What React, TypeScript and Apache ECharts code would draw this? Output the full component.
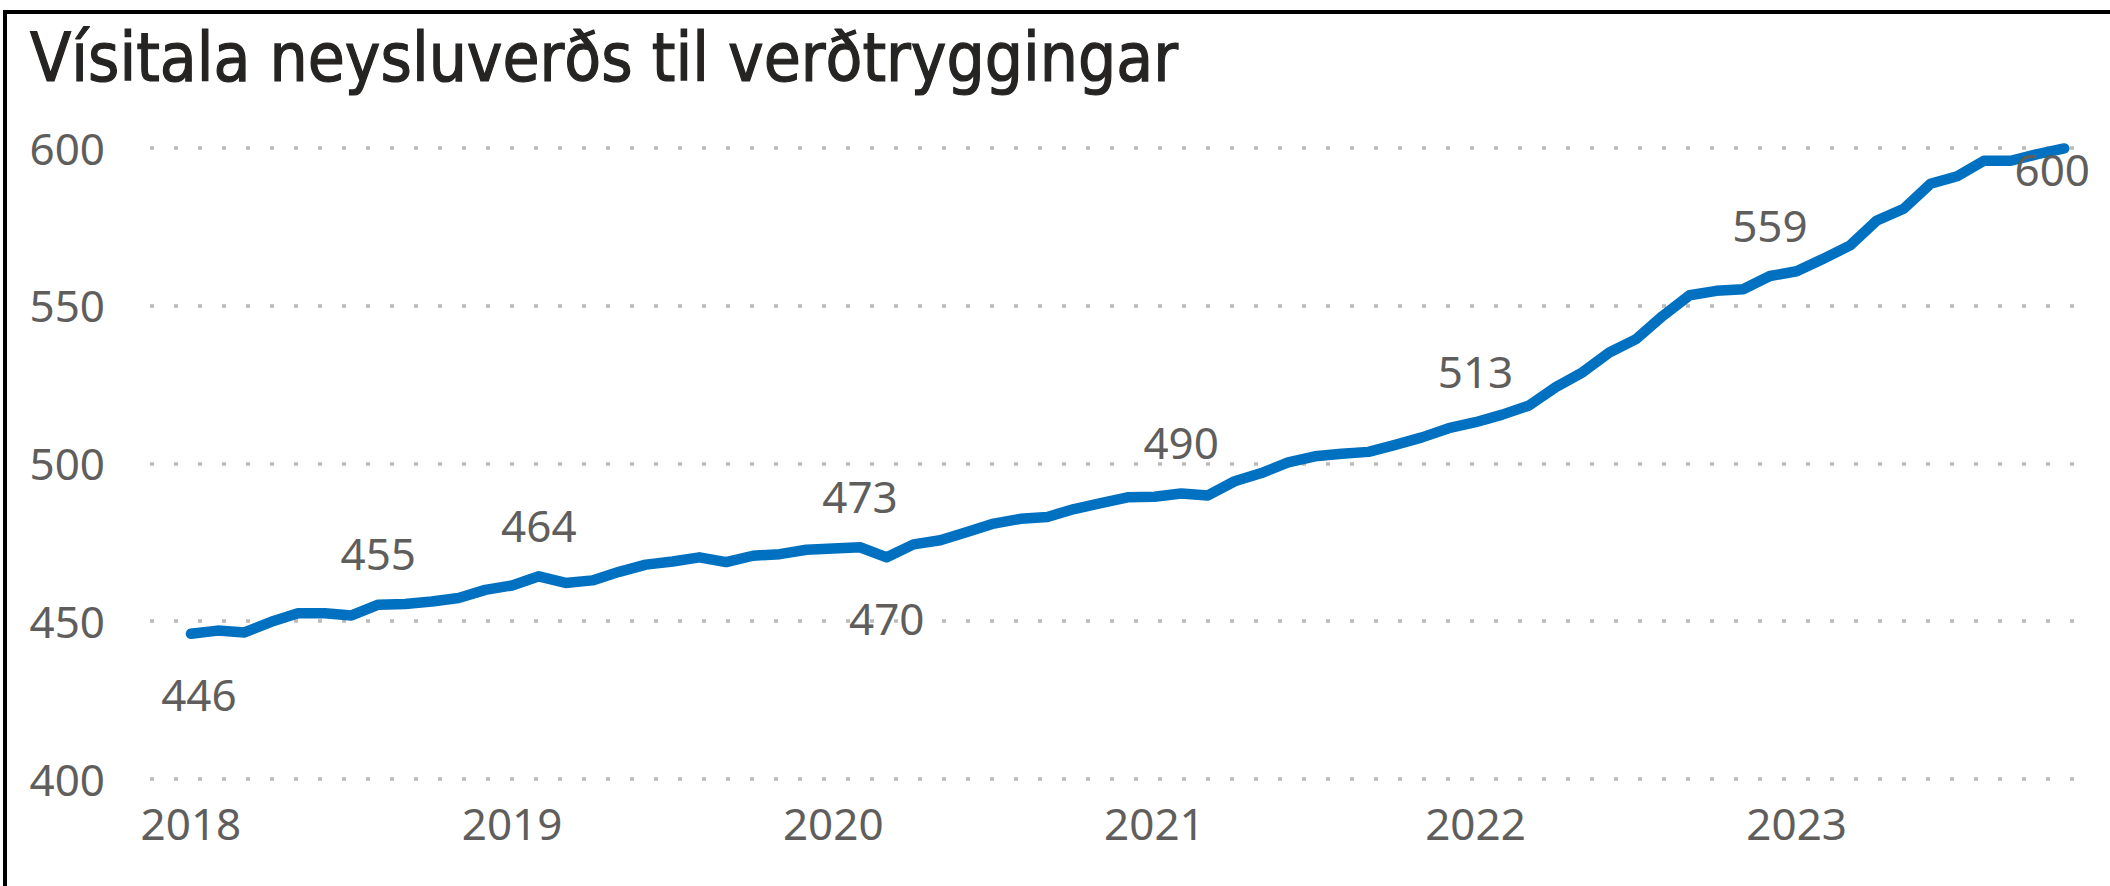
import React, { useEffect, useRef } from 'react';
import * as echarts from 'echarts';

const title = 'Vísitala neysluverðs til verðtryggingar';
const years = ['2018', '2019', '2020', '2021', '2022', '2023'];
const yTicks = [400, 450, 500, 550, 600];

// Monthly index values, Jan 2018 .. Nov 2023
const values2018 = [446.0, 447.0, 446.4, 449.8, 452.5, 452.5, 451.8, 455.2, 455.4, 456.2, 457.3, 459.9];
const values2019 = [461.3, 464.2, 462.1, 462.9, 465.6, 467.9, 468.9, 470.2, 468.7, 470.7, 471.2, 472.6];
const values2020 = [473.0, 473.4, 470.2, 474.3, 475.6, 478.2, 480.9, 482.4, 483.0, 485.5, 487.4, 489.2];
const values2021 = [489.4, 490.4, 489.8, 494.3, 496.9, 500.3, 502.2, 503.0, 503.6, 505.8, 508.2, 511.1];
const values2022 = [513.0, 515.4, 518.3, 524.1, 528.8, 535.1, 539.3, 546.7, 553.2, 554.6, 555.1, 559.3];
const values2023 = [560.8, 564.8, 569.0, 576.9, 580.6, 588.5, 590.9, 595.8, 595.8, 597.9, 599.7];

// data labels shown on these points
const labelTop = [7, 13, 25, 37, 48, 59];
const labelBottom = [0, 26, 70];

export default function App() {
  const ref = useRef<HTMLDivElement>(null);
  useEffect(() => {
    const chart = echarts.init(ref.current!, null, { renderer: 'svg' });
    const values = [...values2018, ...values2019, ...values2020, ...values2021, ...values2022, ...values2023];
    const labelFont = { fontFamily: '"Noto Sans", "Open Sans", sans-serif', fontSize: 44, color: '#605E5C' };
    const fmt = (p: any) => String(Math.round(p.value[1]));
    const data = values.map((v, i) => {
      if (labelTop.includes(i)) {
        return { value: [i, v], label: { show: true, position: 'top', distance: 29, formatter: fmt, ...labelFont } };
      }
      if (labelBottom.includes(i)) {
        const last = i === values.length - 1;
        return {
          value: [i, v],
          label: {
            show: true,
            position: 'bottom',
            distance: last ? -2 : 38,
            offset: [last ? -12 : i === 0 ? 8 : 0, 0],
            formatter: fmt,
            ...labelFont,
          },
        };
      }
      return { value: [i, v] };
    });
    chart.setOption({
      animation: false,
      backgroundColor: '#ffffff',
      grid: { left: 150, right: 27, top: 147.5, bottom: 107 },
      xAxis: {
        type: 'value',
        min: -1.53,
        max: 70.7,
        axisLine: { show: false },
        axisTick: { show: false },
        splitLine: { show: false },
        axisLabel: {
          customValues: years.map((_, k) => k * 12),
          formatter: (v: number) => years[Math.round(v / 12)] ?? '',
          margin: 22,
          ...labelFont,
        },
      },
      yAxis: {
        type: 'value',
        min: yTicks[0],
        max: yTicks[yTicks.length - 1],
        interval: 50,
        axisLine: { show: false },
        axisTick: { show: false },
        axisLabel: { margin: 45, ...labelFont },
        splitLine: { lineStyle: { color: '#BDBBB9', width: 3.5, type: [4, 20] } },
      },
      series: [
        {
          type: 'line',
          data,
          symbol: 'circle',
          symbolSize: 1,
          showSymbol: true,
          itemStyle: { color: '#0070C0' },
          lineStyle: { color: '#0070C0', width: 10.5, cap: 'round', join: 'round' },
          label: { show: false },
          z: 3,
        },
      ],
      graphic: [
        {
          type: 'rect',
          shape: { x: 5, y: 12, width: 2200, height: 1000 },
          style: { fill: 'none', stroke: '#000000', lineWidth: 4 },
          silent: true,
        },
        {
          type: 'text',
          x: 30,
          y: 24,
          style: {
            text: title,
            fill: '#252423',
            stroke: '#252423',
            lineWidth: 1.2,
            font: 'normal 67px "DejaVu Sans Condensed", "Liberation Sans Narrow", "Noto Sans", sans-serif',
            verticalAlign: 'top',
          },
        },
      ],
    });
    return () => chart.dispose();
  }, []);
  return <div ref={ref} style={{ position: 'fixed', left: 0, top: 0, width: 2110, height: 886 }} />;
}
